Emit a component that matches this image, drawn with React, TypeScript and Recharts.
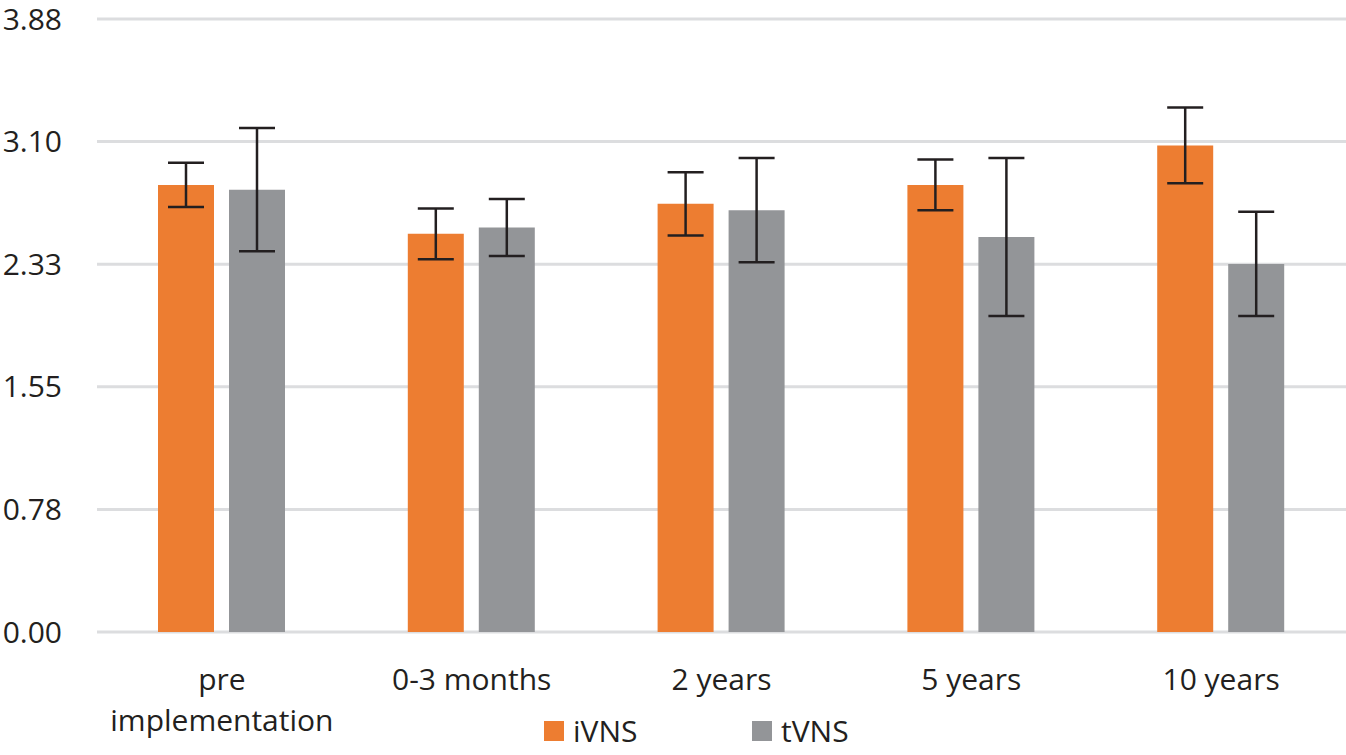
import { BarChart, Bar, XAxis, YAxis, CartesianGrid, Legend, ErrorBar } from "recharts";

const categories = ["pre implementation", "0-3 months", "2 years", "5 years", "10 years"];
const iVNS = [2.83, 2.52, 2.71, 2.83, 3.08];
const iVNSErr = [0.14, 0.16, 0.2, 0.16, 0.24];
const tVNS = [2.8, 2.56, 2.67, 2.5, 2.33];
const tVNSErr = [0.39, 0.18, 0.33, 0.5, 0.33];
const yTicks = [0, 0.776, 1.552, 2.328, 3.104, 3.88];

const FONT = "'Open Sans', sans-serif";
const TEXT = "#231f20";

const chartData = categories.map((name, i) => ({
  name,
  iVNS: iVNS[i],
  iErr: iVNSErr[i],
  tVNS: tVNS[i],
  tErr: tVNSErr[i],
}));

// greedy word wrap by character count
const wrapLabel = (label: string, maxChars = 14) => {
  const lines: string[] = [];
  let cur = "";
  label.split(" ").forEach((w) => {
    const next = cur ? cur + " " + w : w;
    if (next.length > maxChars && cur) {
      lines.push(cur);
      cur = w;
    } else {
      cur = next;
    }
  });
  if (cur) lines.push(cur);
  return lines;
};

const CategoryTick = ({ x, y, payload }: any) => (
  <text x={x} y={y + 58} textAnchor="middle" fontSize={30} fontFamily={FONT} fill={TEXT}>
    {wrapLabel(payload.value).map((line, i) => (
      <tspan key={i} x={x} dy={i === 0 ? 0 : 41}>
        {line}
      </tspan>
    ))}
  </text>
);

const LegendContent = ({ payload }: any) => (
  <div style={{ display: "flex", fontFamily: FONT }}>
    {(payload || []).map((entry: any) => (
      <div key={entry.value} style={{ display: "flex", alignItems: "center", width: 208 }}>
        <span style={{ width: 20, height: 20, background: entry.color, marginRight: 9, display: "inline-block" }} />
        <span style={{ fontSize: 30, lineHeight: "30px", color: TEXT }}>{entry.value}</span>
      </div>
    ))}
  </div>
);

export default function App() {
  return (
    <div style={{ position: "absolute", left: 0, top: 0, background: "#fff" }}>
      <BarChart
        width={1346}
        height={755}
        data={chartData}
        margin={{ top: 19, right: 0, left: 0, bottom: 0 }}
        barSize={56}
        barGap={15}
      >
        <CartesianGrid vertical={false} stroke="#dcdddf" strokeWidth={3} />
        <XAxis
          dataKey="name"
          height={123}
          axisLine={false}
          tickLine={false}
          tickSize={0}
          tickMargin={0}
          tick={<CategoryTick />}
          interval={0}
        />
        <YAxis
          width={97}
          domain={[0, 3.88]}
          ticks={yTicks}
          axisLine={false}
          tickLine={false}
          tickSize={0}
          tickMargin={35}
          tickFormatter={(v: number) => v.toFixed(2)}
          tick={{ fontSize: 30, fontFamily: FONT, fill: TEXT }}
        />
        <Legend
          verticalAlign="middle"
          layout="horizontal"
          content={<LegendContent />}
          wrapperStyle={{ top: 716, left: 544, width: 420, height: 30 }}
        />
        <Bar dataKey="iVNS" name="iVNS" fill="#ed7d31" isAnimationActive={false}>
          <ErrorBar dataKey="iErr" width={18} strokeWidth={2.5} stroke={TEXT} isAnimationActive={false} />
        </Bar>
        <Bar dataKey="tVNS" name="tVNS" fill="#939598" isAnimationActive={false}>
          <ErrorBar dataKey="tErr" width={18} strokeWidth={2.5} stroke={TEXT} isAnimationActive={false} />
        </Bar>
      </BarChart>
    </div>
  );
}
